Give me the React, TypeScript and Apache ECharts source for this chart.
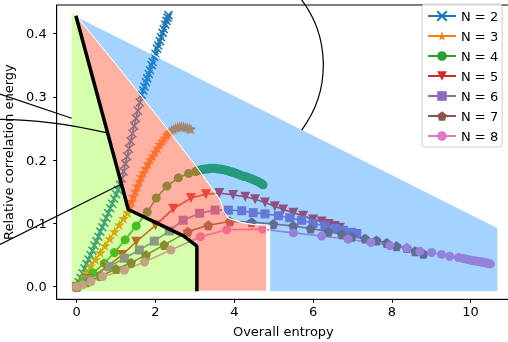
import React, { useEffect, useRef } from "react";
import * as echarts from "echarts";

const seriesNames = ["N = 2", "N = 3", "N = 4", "N = 5", "N = 6", "N = 7", "N = 8"];
const seriesColors = ["#1f77b4", "#ff7f0e", "#2ca02c", "#d62728", "#9467bd", "#8c564b", "#e377c2"];

const xTicks = [0, 2, 4, 6, 8, 10];
const yTicks = [0, 0.1, 0.2, 0.3, 0.4];

const n2 = [
  [0, 0], [0.05, 0.007], [0.1, 0.014], [0.15, 0.021], [0.2, 0.029], [0.25, 0.036], [0.3, 0.043],
  [0.35, 0.05], [0.4, 0.057], [0.45, 0.065], [0.5, 0.072], [0.55, 0.079], [0.6, 0.087], [0.65, 0.094],
  [0.7, 0.101], [0.75, 0.109], [0.8, 0.116], [0.85, 0.124], [0.9, 0.131], [0.95, 0.139], [1.0, 0.146],
  [1.05, 0.153], [1.1, 0.161], [1.145, 0.171], [1.19, 0.182], [1.235, 0.194], [1.28, 0.206],
  [1.325, 0.218], [1.37, 0.23], [1.415, 0.242], [1.46, 0.254], [1.505, 0.266], [1.55, 0.278],
  [1.6, 0.291], [1.65, 0.303], [1.69, 0.31], [1.72, 0.316], [1.76, 0.323], [1.79, 0.329], [1.83, 0.336],
  [1.86, 0.342], [1.9, 0.35], [1.93, 0.355], [1.97, 0.363], [2.0, 0.368], [2.04, 0.376], [2.07, 0.381],
  [2.11, 0.388], [2.14, 0.394], [2.18, 0.401], [2.21, 0.407], [2.25, 0.414], [2.28, 0.42], [2.31, 0.425],
  [2.33, 0.429],
];
const n3 = [
  [0, 0], [0.12, 0.011], [0.24, 0.022], [0.36, 0.033], [0.48, 0.043], [0.6, 0.054], [0.72, 0.065],
  [0.84, 0.076], [0.96, 0.087], [1.08, 0.098], [1.19, 0.108], [1.29, 0.117], [1.34, 0.126], [1.39, 0.135],
  [1.44, 0.143], [1.49, 0.151], [1.54, 0.159], [1.59, 0.166], [1.64, 0.174], [1.69, 0.18], [1.75, 0.187],
  [1.81, 0.194], [1.87, 0.201], [1.93, 0.207], [1.99, 0.213], [2.05, 0.219], [2.11, 0.225], [2.17, 0.23],
  [2.23, 0.235], [2.29, 0.24], [2.35, 0.244], [2.41, 0.247], [2.46, 0.249], [2.51, 0.251], [2.56, 0.252],
  [2.61, 0.253], [2.66, 0.253], [2.71, 0.253], [2.76, 0.252], [2.81, 0.251], [2.86, 0.25], [2.9, 0.249],
];
const n4 = [
  [0, 0], [0.15, 0.008], [0.41, 0.022], [0.7, 0.037], [0.96, 0.054], [1.23, 0.074], [1.51, 0.096],
  [1.79, 0.118], [2.02, 0.14], [2.29, 0.159], [2.58, 0.172], [2.84, 0.179], [3.02, 0.182], [3.05, 0.183],
  [3.09, 0.184], [3.13, 0.184], [3.17, 0.185], [3.21, 0.185], [3.25, 0.186], [3.29, 0.186], [3.33, 0.186],
  [3.37, 0.187], [3.41, 0.187], [3.45, 0.187], [3.49, 0.187], [3.53, 0.187], [3.57, 0.186], [3.61, 0.186],
  [3.65, 0.186], [3.69, 0.185], [3.73, 0.185], [3.77, 0.184], [3.81, 0.184], [3.85, 0.183], [3.89, 0.182],
  [3.93, 0.181], [3.97, 0.181], [4.01, 0.18], [4.05, 0.179], [4.09, 0.178], [4.13, 0.177], [4.17, 0.176],
  [4.21, 0.175], [4.25, 0.174], [4.29, 0.174], [4.33, 0.173], [4.37, 0.172], [4.41, 0.171], [4.45, 0.17],
  [4.49, 0.169], [4.53, 0.168], [4.57, 0.167], [4.61, 0.166], [4.65, 0.164], [4.69, 0.163], [4.73, 0.161],
];
const n5 = [
  [0, 0], [0.3, 0.012], [0.75, 0.031], [1.15, 0.05], [1.51, 0.071], [2.0, 0.097], [2.45, 0.123],
  [2.9, 0.14], [3.28, 0.146], [3.62, 0.148], [3.97, 0.145], [4.28, 0.142], [4.53, 0.138], [4.78, 0.133],
  [5.03, 0.127], [5.24, 0.122], [5.5, 0.117], [5.75, 0.112], [6.0, 0.106], [6.22, 0.103], [6.4, 0.099],
  [6.55, 0.096], [6.68, 0.093],
];
const n6 = [
  [0, 0], [0.3, 0.011], [0.83, 0.032], [1.21, 0.045], [1.59, 0.058], [1.97, 0.072], [2.35, 0.088],
  [2.7, 0.105], [3.12, 0.116], [3.51, 0.121], [3.85, 0.121], [4.19, 0.12], [4.48, 0.117], [4.78, 0.115],
  [5.12, 0.112], [5.41, 0.109], [5.71, 0.105], [6.0, 0.1], [6.3, 0.096], [6.56, 0.092], [6.77, 0.089],
  [6.98, 0.086], [7.11, 0.084],
];
const n7 = [
  [0, 0], [0.25, 0.007], [0.6, 0.017], [1.0, 0.028], [1.38, 0.038], [1.76, 0.05], [2.22, 0.066],
  [2.82, 0.087], [3.34, 0.097], [3.89, 0.103], [4.44, 0.102], [4.99, 0.099], [5.5, 0.096], [5.94, 0.092],
  [6.39, 0.087], [6.73, 0.083], [6.98, 0.079], [7.32, 0.076], [7.61, 0.073], [7.87, 0.069], [8.12, 0.064],
  [8.38, 0.061], [8.59, 0.056], [8.8, 0.052],
];
const n8 = [
  [0, 0], [0.15, 0.003], [0.36, 0.008], [0.66, 0.016], [1.21, 0.026], [1.72, 0.039], [2.39, 0.058],
  [3.14, 0.079], [3.81, 0.09], [4.72, 0.091], [5.5, 0.085], [6.22, 0.08], [6.89, 0.075], [7.47, 0.07],
  [7.95, 0.065], [8.38, 0.061], [8.71, 0.056], [9.01, 0.054], [9.26, 0.051], [9.47, 0.048], [9.69, 0.046],
  [9.78, 0.045], [9.86, 0.044], [9.93, 0.043], [10.0, 0.042], [10.06, 0.041], [10.12, 0.041],
  [10.17, 0.04], [10.22, 0.04], [10.27, 0.039], [10.31, 0.039], [10.35, 0.038], [10.39, 0.038],
  [10.43, 0.037], [10.47, 0.037], [10.5, 0.036],
];

// region boundaries (data coordinates)
const boundary = [[-0.02, 0.428], [1.31, 0.122], [2.05, 0.1], [2.72, 0.08], [3.05, 0.064], [3.05, -0.007]];
const salmonEdge = [
  [0, 0.427], [1.0, 0.351], [2.0, 0.273], [3.06, 0.188], [3.4, 0.158], [3.64, 0.137], [3.72, 0.12],
  [3.85, 0.108], [4.2, 0.101], [4.5, 0.098], [4.82, 0.097],
];
const blueCorners = [[0, 0.427], [10.69, 0.093], [10.69, -0.008], [4.9, -0.008], [4.9, 0.097]];
const greenCorners = [[-0.13, 0.434], [-0.13, -0.007]];
const salmonBottom = [[4.82, -0.007]];

const seriesData = [n2, n3, n4, n5, n6, n7, n8];
const seriesSymbols = [
  "path://M0,0L10,10M10,0L0,10",
  "path://M50,0L61,35L98,35L68,57L79,91L50,70L21,91L32,57L2,35L39,35Z",
  "circle",
  "triangle",
  "rect",
  "path://M50,0L98,35L79,91L21,91L2,35Z",
  "circle",
];
const seriesSymbolSizes = [8, 11, 9, 10, 9, 10, 9];

export default function App() {
  const ref = useRef<HTMLDivElement>(null);
  useEffect(() => {
    if (!ref.current) return;
    const chart = echarts.init(ref.current, undefined, { renderer: "svg" });

    const blueRegion = [...blueCorners, ...salmonEdge.slice(1).reverse()];
    const salmonRegion = [...salmonEdge, ...salmonBottom, ...boundary.slice().reverse()];
    const greenRegion = [greenCorners[0], ...boundary, greenCorners[1]];

    const regionSeries = (name: string, pts: number[][], fill: string, stroke: string) => ({
      type: "custom",
      name,
      coordinateSystem: "cartesian2d",
      z: 3,
      silent: true,
      data: [pts[0]],
      renderItem: (_params: any, api: any) => ({
        type: "polygon",
        shape: { points: pts.map((p) => api.coord(p)) },
        style: { fill, stroke, lineWidth: 1 },
      }),
    });

    const lineSeries = seriesData.map((d, i) => ({
      type: "line",
      name: seriesNames[i],
      data: d,
      symbol: seriesSymbols[i],
      symbolSize: seriesSymbolSizes[i],
      symbolRotate: i === 3 ? 180 : 0,
      showSymbol: true,
      lineStyle: { color: seriesColors[i], width: 1.6 },
      itemStyle:
        i === 0
          ? { color: seriesColors[i], borderColor: seriesColors[i], borderWidth: 1.6 }
          : { color: seriesColors[i], borderWidth: 0 },
      z: 2,
      silent: true,
      emphasis: { disabled: true },
    }));

    chart.setOption({
      animation: false,
      textStyle: { fontFamily: "DejaVu Sans" },
      grid: {
        left: 56.7,
        right: -2,
        top: 5,
        bottom: 42.7,
        show: true,
        borderColor: "#000",
        borderWidth: 1,
        backgroundColor: "transparent",
        outerBoundsMode: "none",
      },
      xAxis: {
        type: "value",
        min: -0.508,
        max: 11.0,
        axisLine: { show: true, onZero: false, lineStyle: { color: "#000", width: 1 } },
        axisTick: { show: true, customValues: xTicks, length: 3.5, lineStyle: { color: "#000" } },
        axisLabel: { customValues: xTicks, color: "#000", fontSize: 13, margin: 6 },
        splitLine: { show: false },
        name: "Overall entropy",
        nameLocation: "middle",
        nameGap: 26,
        nameTextStyle: { color: "#000", fontSize: 13 },
      },
      yAxis: {
        type: "value",
        min: -0.0199,
        max: 0.445,
        axisLine: { show: true, onZero: false, lineStyle: { color: "#000", width: 1 } },
        axisTick: { show: true, customValues: yTicks, length: 3.5, lineStyle: { color: "#000" } },
        axisLabel: {
          customValues: yTicks,
          color: "#000",
          fontSize: 13,
          margin: 10,
          formatter: (v: number) => v.toFixed(1),
        },
        splitLine: { show: false },
        name: "Relative correlation energy",
        nameLocation: "middle",
        nameGap: 33,
        nameTextStyle: { color: "#000", fontSize: 13 },
      },
      legend: {
        data: seriesNames,
        orient: "vertical",
        left: 422,
        top: 4,
        padding: [5, 4, 4, 5],
        itemWidth: 28,
        itemHeight: 12,
        itemGap: 6,
        itemTextGap: 10,
        backgroundColor: "rgba(255,255,255,0.8)",
        borderColor: "#cccccc",
        borderWidth: 1,
        borderRadius: 3,
        textStyle: { color: "#000", fontSize: 13, lineHeight: 14 },
      },
      graphic: [
        {
          type: "arc",
          shape: { cx: 214.7, cy: 65, r: 108.6, startAngle: -0.7, endAngle: 0.642 },
          style: { stroke: "#000", lineWidth: 1.2, fill: "none" },
          z: 10,
        },
        {
          type: "line",
          shape: { x1: 0, y1: 94, x2: 71.7, y2: 118.3 },
          style: { stroke: "#000", lineWidth: 1.2 },
          z: 10,
        },
        {
          type: "bezierCurve",
          shape: { x1: 0, y1: 119.3, cpx1: 50, cpy1: 119.5, x2: 106, y2: 132.7 },
          style: { stroke: "#000", lineWidth: 1.2, fill: "none" },
          z: 10,
        },
        {
          type: "line",
          shape: { x1: 0, y1: 244.5, x2: 120.5, y2: 184.5 },
          style: { stroke: "#000", lineWidth: 1.2 },
          z: 10,
        },
      ],
      series: [
        ...lineSeries,
        regionSeries("blueRegion", blueRegion, "rgba(30,144,255,0.4)", "#ffffff"),
        regionSeries("salmonRegion", salmonRegion, "rgba(255,99,71,0.5)", "#ffffff"),
        regionSeries("greenRegion", greenRegion, "rgba(127,255,0,0.33)", "rgba(0,0,0,0)"),
        {
          type: "line",
          name: "boundary",
          data: boundary,
          symbol: "none",
          lineStyle: { color: "#000", width: 3.5 },
          z: 4,
          silent: true,
        },
      ],
    });
    return () => chart.dispose();
  }, []);
  return (
    <div
      ref={ref}
      style={{ position: "fixed", left: 0, top: 0, width: 508, height: 342 }}
    />
  );
}
